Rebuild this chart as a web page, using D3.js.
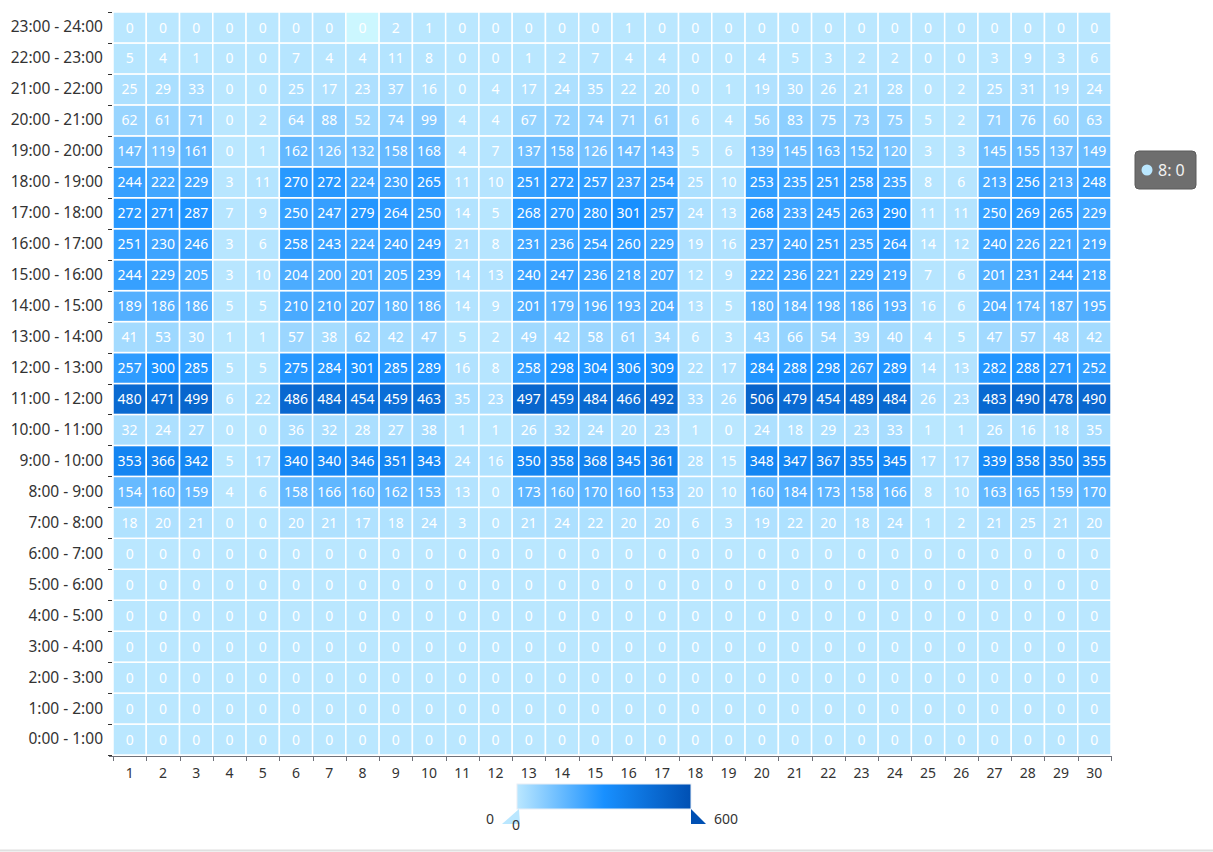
<!DOCTYPE html>
<html lang="en">
<head>
<meta charset="utf-8">
<script src="https://d3js.org/d3.v7.min.js"></script>
<style type="text/css">
body { margin: 0; background: #fff; }
svg text { font-family: "Noto Sans", "Open Sans", sans-serif; }
.axis text { fill: #333; }
.axis line, .axis path { stroke: #6e7079; shape-rendering: crispEdges; }
.cell text { fill: #fff; text-anchor: middle; }
</style>
</head>
<body>
<div id="chart"></div>
<script type="text/javascript">

// day columns
var days = [1,2,3,4,5,6,7,8,9,10,11,12,13,14,15,16,17,18,19,20,21,22,23,24,25,26,27,28,29,30];

// hour rows, bottom to top
var hours = ["0:00 - 1:00","1:00 - 2:00","2:00 - 3:00","3:00 - 4:00","4:00 - 5:00","5:00 - 6:00",
  "6:00 - 7:00","7:00 - 8:00","8:00 - 9:00","9:00 - 10:00","10:00 - 11:00","11:00 - 12:00",
  "12:00 - 13:00","13:00 - 14:00","14:00 - 15:00","15:00 - 16:00","16:00 - 17:00","17:00 - 18:00",
  "18:00 - 19:00","19:00 - 20:00","20:00 - 21:00","21:00 - 22:00","22:00 - 23:00","23:00 - 24:00"];

var h00 = [0,0,0,0,0,0,0,0,0,0,0,0,0,0,0,0,0,0,0,0,0,0,0,0,0,0,0,0,0,0];
var h01 = [0,0,0,0,0,0,0,0,0,0,0,0,0,0,0,0,0,0,0,0,0,0,0,0,0,0,0,0,0,0];
var h02 = [0,0,0,0,0,0,0,0,0,0,0,0,0,0,0,0,0,0,0,0,0,0,0,0,0,0,0,0,0,0];
var h03 = [0,0,0,0,0,0,0,0,0,0,0,0,0,0,0,0,0,0,0,0,0,0,0,0,0,0,0,0,0,0];
var h04 = [0,0,0,0,0,0,0,0,0,0,0,0,0,0,0,0,0,0,0,0,0,0,0,0,0,0,0,0,0,0];
var h05 = [0,0,0,0,0,0,0,0,0,0,0,0,0,0,0,0,0,0,0,0,0,0,0,0,0,0,0,0,0,0];
var h06 = [0,0,0,0,0,0,0,0,0,0,0,0,0,0,0,0,0,0,0,0,0,0,0,0,0,0,0,0,0,0];
var h07 = [18,20,21,0,0,20,21,17,18,24,3,0,21,24,22,20,20,6,3,19,22,20,18,24,1,2,21,25,21,20];
var h08 = [154,160,159,4,6,158,166,160,162,153,13,0,173,160,170,160,153,20,10,160,184,173,158,166,8,10,163,165,159,170];
var h09 = [353,366,342,5,17,340,340,346,351,343,24,16,350,358,368,345,361,28,15,348,347,367,355,345,17,17,339,358,350,355];
var h10 = [32,24,27,0,0,36,32,28,27,38,1,1,26,32,24,20,23,1,0,24,18,29,23,33,1,1,26,16,18,35];
var h11 = [480,471,499,6,22,486,484,454,459,463,35,23,497,459,484,466,492,33,26,506,479,454,489,484,26,23,483,490,478,490];
var h12 = [257,300,285,5,5,275,284,301,285,289,16,8,258,298,304,306,309,22,17,284,288,298,267,289,14,13,282,288,271,252];
var h13 = [41,53,30,1,1,57,38,62,42,47,5,2,49,42,58,61,34,6,3,43,66,54,39,40,4,5,47,57,48,42];
var h14 = [189,186,186,5,5,210,210,207,180,186,14,9,201,179,196,193,204,13,5,180,184,198,186,193,16,6,204,174,187,195];
var h15 = [244,229,205,3,10,204,200,201,205,239,14,13,240,247,236,218,207,12,9,222,236,221,229,219,7,6,201,231,244,218];
var h16 = [251,230,246,3,6,258,243,224,240,249,21,8,231,236,254,260,229,19,16,237,240,251,235,264,14,12,240,226,221,219];
var h17 = [272,271,287,7,9,250,247,279,264,250,14,5,268,270,280,301,257,24,13,268,233,245,263,290,11,11,250,269,265,229];
var h18 = [244,222,229,3,11,270,272,224,230,265,11,10,251,272,257,237,254,25,10,253,235,251,258,235,8,6,213,256,213,248];
var h19 = [147,119,161,0,1,162,126,132,158,168,4,7,137,158,126,147,143,5,6,139,145,163,152,120,3,3,145,155,137,149];
var h20 = [62,61,71,0,2,64,88,52,74,99,4,4,67,72,74,71,61,6,4,56,83,75,73,75,5,2,71,76,60,63];
var h21 = [25,29,33,0,0,25,17,23,37,16,0,4,17,24,35,22,20,0,1,19,30,26,21,28,0,2,25,31,19,24];
var h22 = [5,4,1,0,0,7,4,4,11,8,0,0,1,2,7,4,4,0,0,4,5,3,2,2,0,0,3,9,3,6];
var h23 = [0,0,0,0,0,0,0,0,2,1,0,0,0,0,0,1,0,0,0,0,0,0,0,0,0,0,0,0,0,0];

var rows = [h00,h01,h02,h03,h04,h05,h06,h07,h08,h09,h10,h11,h12,h13,h14,h15,h16,h17,h18,h19,h20,h21,h22,h23];

// visual map
var rangeMin = 0, rangeMax = 600;
var rangeColors = ["#BAE7FF", "#1890FF", "#0050B3"];

// hovered cell
var hoverDay = 8, hoverHour = "23:00 - 24:00";

var width = 1213, height = 852;
var margin = {top: 12, right: 102, bottom: 97, left: 113};

var cells = [];
rows.forEach(function(r, i) {
  r.forEach(function(v, j) {
    cells.push({day: days[j], hour: hours[i], value: v});
  });
});

var svg = d3.select("#chart").append("svg")
  .attr("width", width)
  .attr("height", height);

var x = d3.scaleBand().domain(days).range([margin.left, width - margin.right]);
var y = d3.scaleBand().domain(hours).range([height - margin.bottom, margin.top]);

var color = d3.scaleLinear()
  .domain([rangeMin, (rangeMin + rangeMax) / 2, rangeMax])
  .range(rangeColors);

var cell = svg.append("g").attr("class", "cell")
  .selectAll("g")
  .data(cells)
  .enter().append("g");

cell.append("rect")
  .attr("x", function(d) { return x(d.day); })
  .attr("y", function(d) { return y(d.hour); })
  .attr("width", x.bandwidth())
  .attr("height", y.bandwidth())
  .style("fill", function(d) {
    if (d.day == hoverDay && d.hour == hoverHour) return "#ccf7ff";
    return color(d.value);
  })
  .style("stroke", "#fff")
  .style("stroke-width", 1.5);

cell.append("text")
  .attr("x", function(d) { return x(d.day) + x.bandwidth() / 2; })
  .attr("y", function(d) { return y(d.hour) + y.bandwidth() / 2; })
  .attr("dy", "0.36em")
  .style("font-size", "14px")
  .text(function(d) { return d.value; });

// x axis
var xAxis = svg.append("g")
  .attr("class", "axis")
  .attr("transform", "translate(0," + (height - margin.bottom + 1) + ")")
  .call(d3.axisBottom(x).tickSize(0).tickPadding(12));
xAxis.selectAll("text").style("font-size", "14px");
xAxis.select(".domain").attr("d", "M" + (margin.left - 4) + ",0H" + (width - margin.right + 1));

var xBounds = days.map(function(d) { return x(d); }).concat([x.range()[1]]);
xAxis.selectAll(".bound").data(xBounds).enter().append("line")
  .attr("class", "bound")
  .attr("x1", function(d) { return Math.round(d); })
  .attr("x2", function(d) { return Math.round(d); })
  .attr("y1", 0).attr("y2", 5);

// y axis
var yAxis = svg.append("g")
  .attr("class", "axis")
  .attr("transform", "translate(" + margin.left + ",0)")
  .call(d3.axisLeft(y).tickSize(0).tickPadding(10));
yAxis.selectAll("text").style("font-size", "15.5px");
yAxis.select(".domain").remove();

var yBounds = hours.map(function(d) { return y(d); }).concat([y.range()[0]]);
yAxis.selectAll(".bound").data(yBounds).enter().append("line")
  .attr("class", "bound")
  .attr("x1", -5).attr("x2", -1)
  .attr("y1", function(d) { return Math.round(d); })
  .attr("y2", function(d) { return Math.round(d); })
  .style("stroke", "#333");

// continuous legend
var lx = 517, ly = 784, lw = 174, lh = 25;
var grad = svg.append("defs").append("linearGradient")
  .attr("id", "gradient")
  .attr("x1", "0%").attr("x2", "100%")
  .attr("y1", "0%").attr("y2", "0%");
rangeColors.forEach(function(c, i) {
  grad.append("stop")
    .attr("offset", (i * 50) + "%")
    .attr("stop-color", c);
});

svg.append("rect")
  .attr("x", lx).attr("y", ly)
  .attr("width", lw).attr("height", lh)
  .style("fill", "url(#gradient)")
  .style("stroke", "#e8eef5")
  .style("stroke-width", 1);

svg.append("path")
  .attr("d", "M" + (lx + 2) + "," + (ly + lh) + "L" + (lx + 3) + "," + (ly + lh + 15) + "L" + (lx - 15) + "," + (ly + lh + 15) + "Z")
  .style("fill", rangeColors[0]);
svg.append("path")
  .attr("d", "M" + (lx + lw) + "," + (ly + lh) + "L" + (lx + lw) + "," + (ly + lh + 15) + "L" + (lx + lw + 15) + "," + (ly + lh + 15) + "Z")
  .style("fill", rangeColors[2]);

svg.append("text")
  .attr("x", lx - 23).attr("y", ly + lh + 15)
  .attr("text-anchor", "end")
  .style("font-size", "14px").style("fill", "#333")
  .text(rangeMin);
svg.append("text")
  .attr("x", lx + lw + 23).attr("y", ly + lh + 15)
  .style("font-size", "14px").style("fill", "#333")
  .text(rangeMax);
svg.append("text")
  .attr("x", lx - 1).attr("y", ly + lh + 21)
  .attr("text-anchor", "middle")
  .style("font-size", "14px").style("fill", "#333")
  .text(rangeMin);

// tooltip
var tip = svg.append("g").attr("transform", "translate(1135,151)");
tip.append("rect")
  .attr("width", 61).attr("height", 38).attr("rx", 4)
  .style("fill", "#6e6e6e")
  .style("stroke", "#5a5a5a");
tip.append("circle")
  .attr("cx", 12).attr("cy", 19).attr("r", 5.5)
  .style("fill", color(0));
tip.append("text")
  .attr("x", 23).attr("y", 19).attr("dy", "0.36em")
  .style("font-size", "16px").style("fill", "#f2f2f2")
  .text(hoverDay + ": 0");

// bottom border
svg.append("line")
  .attr("x1", 0).attr("x2", width)
  .attr("y1", 850.5).attr("y2", 850.5)
  .style("stroke", "#e0e0e0").style("stroke-width", 2);

</script>
</body>
</html>
